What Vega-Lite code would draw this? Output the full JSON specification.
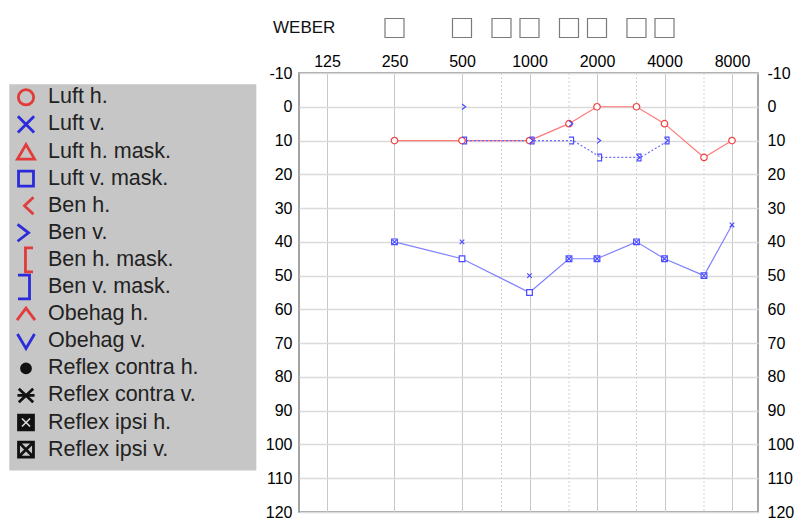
{
  "$schema": "https://vega.github.io/schema/vega-lite/v6.json",
  "width": 459,
  "height": 439,
  "autosize": {"type": "none"},
  "padding": {"left": 299, "top": 73, "right": 42, "bottom": 7},
  "background": "white",
  "config": {"font": "Liberation Sans", "view": {"stroke": "#858585", "strokeWidth": 1.5}},
  "datasets": {
    "marks": [
      {"sym": "Luft h.", "freq": 250, "db": 10},
      {"sym": "Luft h.", "freq": 500, "db": 10},
      {"sym": "Luft h.", "freq": 1000, "db": 10},
      {"sym": "Luft h.", "freq": 1500, "db": 5},
      {"sym": "Luft h.", "freq": 2000, "db": 0},
      {"sym": "Luft h.", "freq": 3000, "db": 0},
      {"sym": "Luft h.", "freq": 4000, "db": 5},
      {"sym": "Luft h.", "freq": 6000, "db": 15},
      {"sym": "Luft h.", "freq": 8000, "db": 10},
      {"sym": "Luft v. mask.", "freq": 250, "db": 40},
      {"sym": "Luft v. mask.", "freq": 500, "db": 45},
      {"sym": "Luft v. mask.", "freq": 1000, "db": 55},
      {"sym": "Luft v. mask.", "freq": 1500, "db": 45},
      {"sym": "Luft v. mask.", "freq": 2000, "db": 45},
      {"sym": "Luft v. mask.", "freq": 3000, "db": 40},
      {"sym": "Luft v. mask.", "freq": 4000, "db": 45},
      {"sym": "Luft v. mask.", "freq": 6000, "db": 50},
      {"sym": "Luft v.", "freq": 250, "db": 40},
      {"sym": "Luft v.", "freq": 500, "db": 40},
      {"sym": "Luft v.", "freq": 1000, "db": 50},
      {"sym": "Luft v.", "freq": 1500, "db": 45},
      {"sym": "Luft v.", "freq": 2000, "db": 45},
      {"sym": "Luft v.", "freq": 3000, "db": 40},
      {"sym": "Luft v.", "freq": 4000, "db": 45},
      {"sym": "Luft v.", "freq": 6000, "db": 50},
      {"sym": "Luft v.", "freq": 8000, "db": 35},
      {"sym": "Ben v. mask.", "freq": 500, "db": 10},
      {"sym": "Ben v. mask.", "freq": 1000, "db": 10},
      {"sym": "Ben v. mask.", "freq": 1500, "db": 10},
      {"sym": "Ben v. mask.", "freq": 2000, "db": 15},
      {"sym": "Ben v. mask.", "freq": 3000, "db": 15},
      {"sym": "Ben v. mask.", "freq": 4000, "db": 10},
      {"sym": "Ben v.", "freq": 500, "db": 0},
      {"sym": "Ben v.", "freq": 1000, "db": 10},
      {"sym": "Ben v.", "freq": 1500, "db": 5},
      {"sym": "Ben v.", "freq": 2000, "db": 10},
      {"sym": "Ben v.", "freq": 3000, "db": 15},
      {"sym": "Ben v.", "freq": 4000, "db": 10}
    ],
    "curves": [
      {"series": "Luft h.", "freq": 250, "db": 10},
      {"series": "Luft h.", "freq": 500, "db": 10},
      {"series": "Luft h.", "freq": 1000, "db": 10},
      {"series": "Luft h.", "freq": 1500, "db": 5},
      {"series": "Luft h.", "freq": 2000, "db": 0},
      {"series": "Luft h.", "freq": 3000, "db": 0},
      {"series": "Luft h.", "freq": 4000, "db": 5},
      {"series": "Luft h.", "freq": 6000, "db": 15},
      {"series": "Luft h.", "freq": 8000, "db": 10},
      {"series": "Luft v.", "freq": 250, "db": 40},
      {"series": "Luft v.", "freq": 500, "db": 45},
      {"series": "Luft v.", "freq": 1000, "db": 55},
      {"series": "Luft v.", "freq": 1500, "db": 45},
      {"series": "Luft v.", "freq": 2000, "db": 45},
      {"series": "Luft v.", "freq": 3000, "db": 40},
      {"series": "Luft v.", "freq": 4000, "db": 45},
      {"series": "Luft v.", "freq": 6000, "db": 50},
      {"series": "Luft v.", "freq": 8000, "db": 35},
      {"series": "Ben v. mask.", "freq": 500, "db": 10},
      {"series": "Ben v. mask.", "freq": 1000, "db": 10},
      {"series": "Ben v. mask.", "freq": 1500, "db": 10},
      {"series": "Ben v. mask.", "freq": 2000, "db": 15},
      {"series": "Ben v. mask.", "freq": 3000, "db": 15},
      {"series": "Ben v. mask.", "freq": 4000, "db": 10}
    ],
    "halfOctaves": [{"freq": 750}, {"freq": 1500}, {"freq": 3000}, {"freq": 6000}],
    "weber": [
      {"freq": 250, "row": "WEBER"},
      {"freq": 500, "row": "WEBER"},
      {"freq": 750, "row": "WEBER"},
      {"freq": 1000, "row": "WEBER"},
      {"freq": 1500, "row": "WEBER"},
      {"freq": 2000, "row": "WEBER"},
      {"freq": 3000, "row": "WEBER"},
      {"freq": 4000, "row": "WEBER"}
    ],
    "legend": [
      {"row": 1, "label": "Luft h."},
      {"row": 2, "label": "Luft v."},
      {"row": 3, "label": "Luft h. mask."},
      {"row": 4, "label": "Luft v. mask."},
      {"row": 5, "label": "Ben h."},
      {"row": 6, "label": "Ben v."},
      {"row": 7, "label": "Ben h. mask."},
      {"row": 8, "label": "Ben v. mask."},
      {"row": 9, "label": "Obehag h."},
      {"row": 10, "label": "Obehag v."},
      {"row": 11, "label": "Reflex contra h."},
      {"row": 12, "label": "Reflex contra v."},
      {"row": 13, "label": "Reflex ipsi h."},
      {"row": 14, "label": "Reflex ipsi v."}
    ]
  },
  "layer": [
    {
      "encoding": {
        "x": {"field": "freq", "type": "quantitative",
          "scale": {"type": "log", "domain": [93.77, 10447], "nice": false},
          "axis": {"orient": "top", "values": [125, 250, 500, 1000, 2000, 4000, 8000], "labelExpr": "'' + datum.value", "labelFontSize": 16, "labelColor": "#000000", "labelPadding": 4, "labelFlush": false, "labelOverlap": false, "ticks": false, "domain": false, "grid": true, "gridColor": "#c8c8c8", "gridWidth": 1, "title": null}}
      },
      "layer": [
        {
          "data": {"name": "halfOctaves"},
          "mark": {"type": "rule", "color": "#d2d2d2", "strokeDash": [2, 2], "strokeWidth": 1}
        },
        {
          "encoding": {
            "y": {"field": "db", "type": "quantitative",
              "scale": {"domain": [-10, 120], "reverse": true, "nice": false, "zero": false},
              "axis": {"orient": "left", "values": [-10, 0, 10, 20, 30, 40, 50, 60, 70, 80, 90, 100, 110, 120], "labelExpr": "'' + datum.value", "labelFontSize": 16, "labelColor": "#000000", "labelPadding": 7, "labelFlush": false, "labelOverlap": false, "ticks": false, "domain": false, "grid": true, "gridColor": "#dadada", "gridWidth": 1.5, "title": null}}
          },
          "layer": [
            {
              "data": {"name": "curves"},
              "transform": [{"filter": "datum.series === 'Luft h.'"}],
              "mark": {"type": "line", "color": "#ff7878", "strokeWidth": 1.2}
            },
            {
              "data": {"name": "curves"},
              "transform": [{"filter": "datum.series === 'Luft v.'"}],
              "mark": {"type": "line", "color": "#8080ff", "strokeWidth": 1.2}
            },
            {
              "data": {"name": "curves"},
              "transform": [{"filter": "datum.series === 'Ben v. mask.'"}],
              "mark": {"type": "line", "color": "#6c6cff", "strokeWidth": 1.2, "strokeDash": [2, 2], "xOffset": 4}
            },
            {
              "data": {"name": "marks"},
              "mark": {"type": "point", "filled": false, "size": 32, "strokeWidth": 1.2, "opacity": 1},
              "encoding": {
                "shape": {"field": "sym", "type": "nominal", "legend": null,
                  "scale": {"domain": ["Luft h.", "Luft v.", "Luft v. mask.", "Ben v.", "Ben v. mask."],
                    "range": ["M1.15,0A1.15,1.15 0 1,1 -1.15,0A1.15,1.15 0 1,1 1.15,0Z", "M-0.8,-0.8L0.8,0.8M0.8,-0.8L-0.8,0.8", "M-1,-1H1V1H-1Z", "M0,-1L1.3,0L0,1", "M0,-1.2H1.6V1.2H0"]}},
                "stroke": {"field": "sym", "type": "nominal", "legend": null,
                  "scale": {"domain": ["Luft h.", "Luft v.", "Luft v. mask.", "Ben v.", "Ben v. mask."],
                    "range": ["#ee4444", "#4b4bff", "#4b4bff", "#4b4bff", "#4b4bff"]}},
                "fill": {"field": "sym", "type": "nominal", "legend": null,
                  "scale": {"domain": ["Luft h.", "Luft v.", "Luft v. mask.", "Ben v.", "Ben v. mask."],
                    "range": ["#ffffff", "transparent", "#ffffff", "transparent", "transparent"]}}
              }
            }
          ]
        },
        {
          "data": {"name": "curves"},
          "mark": {"type": "point", "opacity": 0},
          "encoding": {
            "y": {"field": "db", "type": "quantitative",
              "scale": {"domain": [-10, 120], "reverse": true, "nice": false, "zero": false},
              "axis": {"orient": "right", "values": [-10, 0, 10, 20, 30, 40, 50, 60, 70, 80, 90, 100, 110, 120], "labelExpr": "'' + datum.value", "labelFontSize": 16, "labelColor": "#000000", "labelPadding": 9, "labelFlush": false, "labelOverlap": false, "ticks": false, "domain": false, "grid": false, "title": null}}
          }
        }
      ],
      "resolve": {"axis": {"y": "independent"}}
    },
    {
      "data": {"name": "legend"},
      "layer": [
        {
          "data": {"values": [{"panel": "legend"}]},
          "mark": {"type": "rect", "color": "#c6c6c6"},
          "encoding": {
            "x": {"datum": -0.76, "type": "quantitative", "scale": {"domain": [0, 1], "range": [-273, -251], "nice": false, "zero": false}, "axis": null},
            "x2": {"datum": 10.47},
            "y": {"datum": 0.52, "type": "quantitative", "scale": {"domain": [1, 14], "range": [24.3, 376.6], "nice": false, "zero": false}, "axis": null},
            "y2": {"datum": 14.77}
          }
        },
        {
          "mark": {"type": "point", "filled": false, "size": 324, "strokeWidth": 2.8, "opacity": 1},
          "encoding": {
            "x": {"datum": 0, "type": "quantitative", "scale": {"domain": [0, 1], "range": [-273, -251], "nice": false, "zero": false}, "axis": null},
            "y": {"field": "row", "type": "quantitative", "scale": {"domain": [1, 14], "range": [24.3, 376.6], "nice": false, "zero": false}, "axis": null},
            "shape": {"field": "label", "type": "nominal", "legend": null,
              "scale": {"domain": ["Luft h.", "Luft v.", "Luft h. mask.", "Luft v. mask.", "Ben h.", "Ben v.", "Ben h. mask.", "Ben v. mask.", "Obehag h.", "Obehag v.", "Reflex contra h.", "Reflex contra v.", "Reflex ipsi h.", "Reflex ipsi v."],
                "range": [
                  "M0.85,0A0.85,0.85 0 1,1 -0.85,0A0.85,0.85 0 1,1 0.85,0Z",
                  "M-0.9,-0.9L0.9,0.9M0.9,-0.9L-0.9,0.9",
                  "M0,-0.78L0.95,0.85L-0.95,0.85Z",
                  "M-0.83,-0.83H0.83V0.83H-0.83Z",
                  "M0.83,-0.94L-0.17,0L0.83,0.94",
                  "M-0.94,-0.94L0.28,0L-0.94,0.94",
                  "M0.78,-1.33H-0.06V1.33H0.78",
                  "M-0.89,-1.33H0.39V1.33H-0.89",
                  "M-1,0.67L0,-0.67L1,0.67",
                  "M-0.95,-0.8L0,0.8L0.95,-0.8",
                  "M0.5,0A0.5,0.5 0 1,1 -0.5,0A0.5,0.5 0 1,1 0.5,0Z",
                  "M-0.8,-0.75L0.8,0.75M0.8,-0.75L-0.8,0.75M-0.95,0H0.95",
                  "M-0.83,-0.83H0.83V0.83H-0.83Z",
                  "M-0.83,-0.83H0.83V0.83H-0.83ZM-0.83,-0.83L0.83,0.83M0.83,-0.83L-0.83,0.83"
                ]}},
            "stroke": {"field": "label", "type": "nominal", "legend": null,
              "scale": {"domain": ["Luft h.", "Luft v.", "Luft h. mask.", "Luft v. mask.", "Ben h.", "Ben v.", "Ben h. mask.", "Ben v. mask.", "Obehag h.", "Obehag v.", "Reflex contra h.", "Reflex contra v.", "Reflex ipsi h.", "Reflex ipsi v."],
                "range": ["#e23b3b", "#2b2bdb", "#e23b3b", "#2b2bdb", "#e23b3b", "#2b2bdb", "#e23b3b", "#2b2bdb", "#e23b3b", "#2b2bdb", "#111111", "#111111", "#111111", "#111111"]}},
            "fill": {"field": "label", "type": "nominal", "legend": null,
              "scale": {"domain": ["Luft h.", "Luft v.", "Luft h. mask.", "Luft v. mask.", "Ben h.", "Ben v.", "Ben h. mask.", "Ben v. mask.", "Obehag h.", "Obehag v.", "Reflex contra h.", "Reflex contra v.", "Reflex ipsi h.", "Reflex ipsi v."],
                "range": ["transparent", "transparent", "transparent", "transparent", "transparent", "transparent", "transparent", "transparent", "transparent", "transparent", "#111111", "transparent", "#111111", "transparent"]}}
          }
        },
        {
          "transform": [{"filter": "datum.row === 13"}],
          "mark": {"type": "point", "filled": false, "size": 324, "strokeWidth": 1.6, "opacity": 1, "stroke": "#dddddd", "shape": "M-0.45,-0.45L0.45,0.45M0.45,-0.45L-0.45,0.45"},
          "encoding": {
            "x": {"datum": 0, "type": "quantitative", "scale": {"domain": [0, 1], "range": [-273, -251], "nice": false, "zero": false}, "axis": null},
            "y": {"field": "row", "type": "quantitative", "scale": {"domain": [1, 14], "range": [24.3, 376.6], "nice": false, "zero": false}, "axis": null}
          }
        },
        {
          "mark": {"type": "text", "align": "left", "baseline": "middle", "fontSize": 21.5, "color": "#222222"},
          "encoding": {
            "x": {"datum": 1, "type": "quantitative", "scale": {"domain": [0, 1], "range": [-273, -251], "nice": false, "zero": false}, "axis": null},
            "y": {"field": "row", "type": "quantitative", "scale": {"domain": [1, 14], "range": [24.3, 376.6], "nice": false, "zero": false}, "axis": null},
            "text": {"field": "label"}
          }
        }
      ]
    },
    {
      "layer": [
        {
          "data": {"name": "weber"},
          "mark": {"type": "point", "shape": "M-1,-1H1V1H-1Z", "size": 361, "filled": false, "fill": "#ffffff", "stroke": "#7a7a7a", "strokeWidth": 1.2, "opacity": 1},
          "encoding": {
            "x": {"field": "freq", "type": "quantitative", "scale": {"type": "log", "domain": [93.77, 10447], "nice": false}, "axis": null},
            "y": {"field": "row", "type": "nominal", "scale": {"type": "point", "range": [-45, -45]}, "axis": null}
          }
        },
        {
          "data": {"values": [{"row": "WEBER", "label": "WEBER"}]},
          "mark": {"type": "text", "align": "left", "baseline": "middle", "dx": -26, "fontSize": 17, "color": "#111111"},
          "encoding": {
            "x": {"datum": 93.77, "type": "quantitative", "scale": {"type": "log", "domain": [93.77, 10447], "nice": false}, "axis": null},
            "y": {"field": "row", "type": "nominal", "scale": {"type": "point", "range": [-45, -45]}, "axis": null},
            "text": {"field": "label"}
          }
        }
      ]
    }
  ],
  "resolve": {"scale": {"x": "independent", "y": "independent", "shape": "independent", "stroke": "independent", "fill": "independent"}}
}
